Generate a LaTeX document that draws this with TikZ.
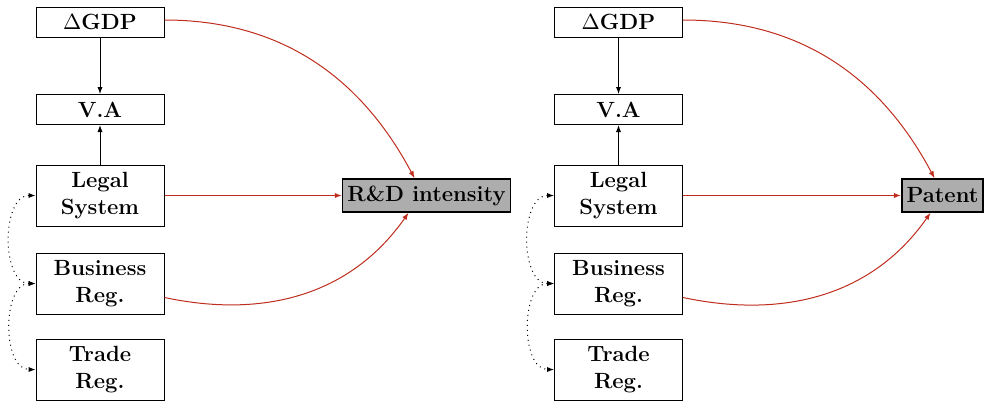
\documentclass[tikz,border=0pt]{standalone}
\usetikzlibrary{arrows.meta}
\definecolor{arrred}{RGB}{190,45,30}
\tikzset{
  box/.style={draw, minimum width=64pt, minimum height=15pt, align=center, font=\fontsize{11}{13.6}\selectfont\bfseries, inner sep=2pt},
  tallbox/.style={box, minimum height=30.5pt},
  target/.style={draw, thick, fill=black!32, font=\fontsize{11}{13.6}\selectfont\bfseries, minimum height=16.5pt, inner sep=2.4pt},
  blkarr/.style={-{Latex[length=3.5pt,width=2.6pt]}, color=black},
  redarr/.style={-{Latex[length=3.5pt,width=2.6pt]}, color=arrred},
  dotarr/.style={{Latex[length=3.5pt,width=2.6pt]}-{Latex[length=3.5pt,width=2.6pt]}, dotted}
}
\begin{document}
\begin{tikzpicture}[x=1pt,y=1pt,line width=0.5pt]
			\useasboundingbox (0,0) rectangle (492,-201.5);
			% left panel
			\node[box] (gdp1) at (50,-11) {$\Delta$GDP};
			\node[box] (va1) at (50,-54.75) {V.A};
			\node[tallbox] (legal1) at (50,-97.75) {Legal\\System};
			\node[tallbox] (bus1) at (50,-141.75) {Business\\Reg.};
			\node[tallbox] (trade1) at (50,-184.75) {Trade\\Reg.};
			\node[target] (rd) at (213.25,-97.75) {R\&D intensity};
			
			\draw[blkarr] (gdp1)--(va1);
			\draw[blkarr] (legal1)--(va1);
			\draw[dotarr] (legal1.west) to[out=180,in=180,looseness=1] (bus1.west);
			\draw[dotarr] (bus1.west) to[out=180,in=180,looseness=1] (trade1.west);
			\draw[redarr] (legal1)--(rd);
			\draw[redarr] ([yshift=1pt]gdp1.east) to[out=0,in=118] ([xshift=-6pt]rd.north);
			\draw[redarr] ([yshift=-7pt]bus1.east) to[out=-12,in=-125] ([xshift=-9pt]rd.south);
			
			% right panel
			\node[box] (gdp2) at (309.25,-11) {$\Delta$GDP};
			\node[box] (va2) at (309.25,-54.75) {V.A};
			\node[tallbox] (legal2) at (309.25,-97.75) {Legal\\System};
			\node[tallbox] (bus2) at (309.25,-141.75) {Business\\Reg.};
			\node[tallbox] (trade2) at (309.25,-184.75) {Trade\\Reg.};
			\node[target] (pat) at (471.25,-97.75) {Patent};
			
			\draw[blkarr] (gdp2)--(va2);
			\draw[blkarr] (legal2)--(va2);
			\draw[dotarr] (legal2.west) to[out=180,in=180,looseness=1] (bus2.west);
			\draw[dotarr] (bus2.west) to[out=180,in=180,looseness=1] (trade2.west);
			\draw[redarr] (legal2)--(pat);
			\draw[redarr] ([yshift=1pt]gdp2.east) to[out=0,in=118] ([xshift=-4pt]pat.north);
			\draw[redarr] ([yshift=-7pt]bus2.east) to[out=-12,in=-125] ([xshift=-6pt]pat.south);
\end{tikzpicture}
\end{document}
